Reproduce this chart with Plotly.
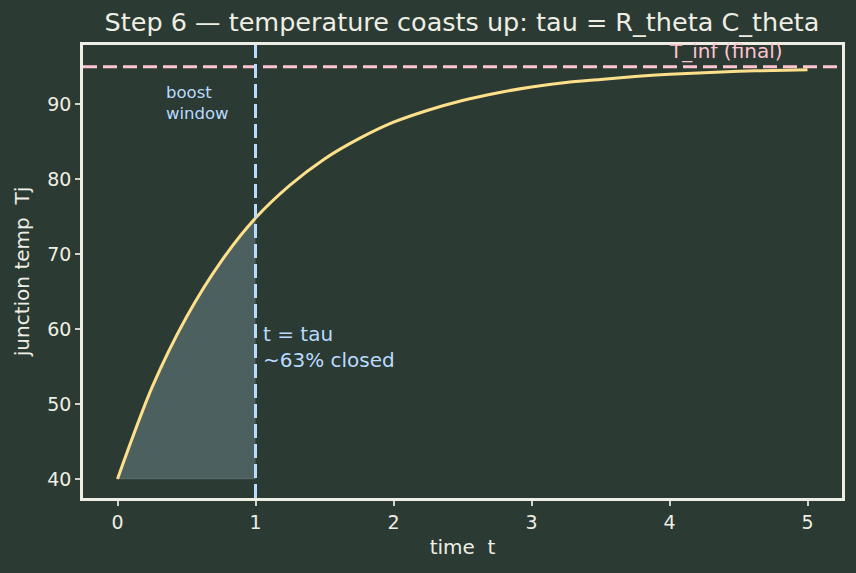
import plotly.graph_objects as go

# data
t_vals = [0, 0.25, 0.5, 0.75, 1.0, 1.25, 1.5, 1.75, 2.0, 2.25, 2.5, 2.75, 3.0,
          3.25, 3.5, 3.75, 4.0, 4.25, 4.5, 4.75, 5.0]
tj_vals = [40.0, 52.2, 61.6, 69.0, 74.8, 79.2, 82.7, 85.4, 87.6, 89.2, 90.5,
           91.5, 92.3, 92.9, 93.3, 93.7, 94.0, 94.2, 94.4, 94.5, 94.6]
t_inf = 95.0
tau = 1.0
t_start = 40.0
x_ticks = [0, 1, 2, 3, 4, 5]
y_ticks = [40, 50, 60, 70, 80, 90]

BG = "#2b3a33"
FG = "#eeeee4"
CURVE = "#ffe08a"
BLUE = "#b9dbff"
PINK = "#ffc4cf"
FONT = "DejaVu Sans"

fig = go.Figure()

# shaded boost window area under curve for t <= tau
win_t = [t for t in t_vals if t <= tau]
win_y = [y for t, y in zip(t_vals, tj_vals) if t <= tau]
fig.add_trace(go.Scatter(x=win_t, y=[t_start] * len(win_t), mode="lines",
                         line=dict(width=1, color="rgba(120,140,140,0.35)"),
                         hoverinfo="skip", showlegend=False))
fig.add_trace(go.Scatter(x=win_t, y=win_y, mode="lines", fill="tonexty",
                         fillcolor="rgba(110,135,140,0.5)",
                         line=dict(width=0, shape="spline", color="rgba(0,0,0,0)"),
                         hoverinfo="skip", showlegend=False))

# main curve
fig.add_trace(go.Scatter(x=t_vals, y=tj_vals, mode="lines",
                         line=dict(color=CURVE, width=3, shape="spline", smoothing=0.8),
                         showlegend=False))

# T_inf line
fig.add_hline(y=t_inf, line=dict(color=PINK, width=3, dash="14px,6px"))
# tau line
fig.add_vline(x=tau, line=dict(color=BLUE, width=3, dash="14px,6px"))

fig.add_annotation(x=4.0, y=t_inf, text="T_inf (final)", showarrow=False,
                   xanchor="left", yanchor="bottom", yshift=2, xshift=-3,
                   font=dict(family=FONT, size=20, color=PINK))
fig.add_annotation(x=0.36, y=90.2, text="boost<br>window", showarrow=False,
                   xanchor="left", yanchor="middle", align="left", xshift=-3,
                   font=dict(family=FONT, size=16.5, color=BLUE))
fig.add_annotation(x=1.06, y=57.6, text="t = tau<br>~63% closed", showarrow=False,
                   xanchor="left", yanchor="middle", align="left", xshift=-3,
                   font=dict(family=FONT, size=20, color=BLUE))

fig.update_layout(
    width=856, height=573,
    paper_bgcolor=BG, plot_bgcolor=BG,
    margin=dict(l=83, r=14, t=45, b=75),
    font=dict(family=FONT, color=FG, size=19),
    title=dict(text="Step 6 — temperature coasts up: tau = R_theta C_theta",
               x=462 / 856, xanchor="center", y=1 - 22 / 573, yanchor="middle",
               font=dict(family=FONT, size=25.5, color=FG)),
    xaxis=dict(range=[-0.25, 5.25], tickvals=x_ticks, showgrid=False, zeroline=False,
               showline=True, linecolor=FG, linewidth=2.5, mirror=True,
               ticks="outside", ticklen=5, tickwidth=1.5, tickcolor="#cfd3cc",
               tickfont=dict(size=19),
               title=dict(text="time  t", font=dict(size=20), standoff=9)),
    yaxis=dict(range=[37.45, 97.9], tickvals=y_ticks, showgrid=False, zeroline=False,
               showline=True, linecolor=FG, linewidth=2.5, mirror=True,
               ticks="outside", ticklen=5, tickwidth=1.5, tickcolor="#cfd3cc",
               tickfont=dict(size=19),
               title=dict(text="junction temp  Tj", font=dict(size=20), standoff=13)),
)

fig.write_html("out.html")
